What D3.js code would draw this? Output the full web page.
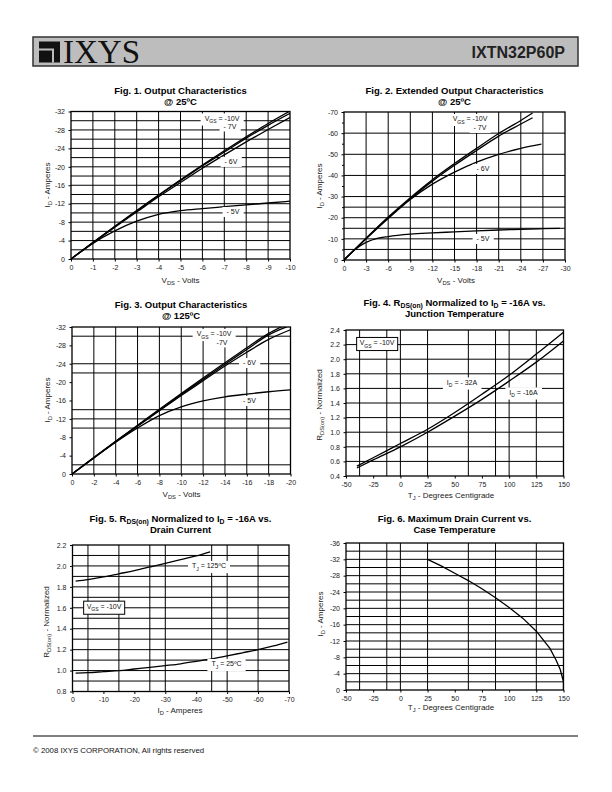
<!DOCTYPE html>
<html><head><meta charset="utf-8">
<script src="https://cdn.jsdelivr.net/npm/d3@7/dist/d3.min.js"></script>
<style>body{margin:0;background:#fff;} svg{display:block;font-family:Arial,"Liberation Sans",sans-serif;}</style>
</head><body><svg id="c" width="612" height="792"></svg>
<script>
// ---------- DATA ----------
// Fig 1
const f1XTicks = [0,-1,-2,-3,-4,-5,-6,-7,-8,-9,-10];
const f1YTicks = [0,-4,-8,-12,-16,-20,-24,-28,-32];
const f1GridX = [-1,-2,-3,-4,-5,-6,-7,-8,-9];
const f1GridY = [-2,-4,-6,-8,-10,-12,-14,-16,-18,-20,-22,-24,-26,-28,-30];
const f1Vds = [0,-1,-2,-3,-4,-5,-6,-7,-8,-9,-10];
const f1Vgs10 = [0,-3.6,-7.1,-10.5,-13.9,-17.2,-20.4,-23.5,-26.5,-29.4,-32.1];
const f1Vgs7  = [0,-3.6,-7.0,-10.4,-13.8,-17.0,-20.2,-23.2,-26.2,-29.0,-31.6];
const f1Vgs6  = [0,-3.5,-6.9,-10.2,-13.5,-16.6,-19.7,-22.6,-25.4,-28.1,-30.7];
const f1Vgs5  = [0,-3.4,-6.1,-8.2,-9.7,-10.5,-10.95,-11.35,-11.75,-12.15,-12.55];

// Fig 2
const f2XTicks = [0,-3,-6,-9,-12,-15,-18,-21,-24,-27,-30];
const f2YTicks = [0,-10,-20,-30,-40,-50,-60,-70];
const f2YMinor = [-5,-15,-25,-35,-45,-55,-65];
const f2GridX = [-3,-6,-9,-12,-15,-18,-21,-24,-27];
const f2GridY = [-5,-10,-15,-20,-25,-30,-40,-50,-60];
const f2VdsA = [0,-3,-6,-9,-12,-15,-18,-21,-24,-25.6];
const f2Vgs10 = [0,-10.3,-20.3,-29.5,-38.0,-45.6,-52.8,-59.8,-66.0,-69.5];
const f2Vgs7  = [0,-10.2,-20.0,-29.0,-37.3,-44.8,-51.8,-58.6,-64.3,-67.3];
const f2VdsB = [0,-3,-6,-9,-12,-15,-18,-21,-24,-26.8];
const f2Vgs6  = [0,-10.0,-19.6,-28.6,-35.9,-41.6,-46.3,-50.0,-52.8,-54.8];
const f2VdsC = [0,-1.5,-3,-4.5,-6,-9,-12,-15,-18,-21,-24,-27,-29.3];
const f2Vgs5  = [0,-5.0,-8.3,-10.2,-11.1,-12.2,-12.8,-13.3,-13.8,-14.2,-14.5,-14.8,-15.0];

// Fig 3
const f3XTicks = [0,-2,-4,-6,-8,-10,-12,-14,-16,-18,-20];
const f3YTicks = [0,-4,-8,-12,-16,-20,-24,-28,-32];
const f3GridX = [-2,-4,-6,-8,-10,-12,-14,-16,-18];
const f3GridY = [-2,-10,-12,-14,-22,-24,-30];
const f3VdsA = [0,-2,-4,-6,-8,-10,-12,-14,-16,-18,-19.3];
const f3Vgs10 = [0,-3.6,-7.1,-10.6,-14.1,-17.5,-20.9,-24.2,-27.5,-30.6,-32.2];
const f3VdsB = [0,-2,-4,-6,-8,-10,-12,-14,-16,-18,-19.7];
const f3Vgs7  = [0,-3.6,-7.1,-10.5,-13.9,-17.3,-20.6,-23.9,-27.1,-30.3,-32.1];
const f3VdsC = [0,-2,-4,-6,-8,-10,-12,-14,-16,-18,-20];
const f3Vgs6  = [0,-3.5,-7.0,-10.4,-13.8,-17.1,-20.3,-23.5,-26.5,-29.3,-31.4];
const f3Vgs5  = [0,-3.5,-6.9,-10.0,-12.7,-14.6,-15.9,-16.8,-17.4,-17.9,-18.3];

// Fig 4
const f4XTicks = [-50,-25,0,25,50,75,100,125,150];
const f4YTicks = [0.4,0.6,0.8,1.0,1.2,1.4,1.6,1.8,2.0,2.2,2.4];
const f4GridX = [-37.5,-12.5,0,25,62.5,87.5,100,125];
const f4GridY = [0.6,0.8,1.0,1.2,1.4,1.6,1.8,2.0,2.2];
const f4Tj = [-40,-25,0,25,50,75,100,125,150];
const f4Id32 = [0.535,0.65,0.845,1.04,1.27,1.52,1.78,2.07,2.37];
const f4Id16 = [0.51,0.62,0.80,1.00,1.22,1.45,1.70,1.96,2.25];

// Fig 5
const f5XTicks = [0,-10,-20,-30,-40,-50,-60,-70];
const f5YTicks = [0.8,1.0,1.2,1.4,1.6,1.8,2.0,2.2];
const f5GridX = [-5,-15,-25,-30,-45,-50,-60];
const f5GridY = [0.9,1.0,1.1,1.2,1.3,1.4,1.5,1.6,1.7,1.8,1.9,2.0,2.1];
const f5IdHot = [-1,-5,-10,-15,-20,-25,-30,-35,-40,-44.5];
const f5Tj125 = [1.855,1.87,1.895,1.925,1.955,1.99,2.025,2.06,2.095,2.135];
const f5IdCold = [-1,-5,-10,-15,-20,-25,-30,-35,-40,-45,-50,-55,-60,-65,-69.5];
const f5Tj25 = [0.975,0.98,0.99,1.0,1.015,1.03,1.047,1.065,1.088,1.112,1.14,1.17,1.2,1.235,1.272];

// Fig 6
const f6XTicks = [-50,-25,0,25,50,75,100,125,150];
const f6YTicks = [0,-4,-8,-12,-16,-20,-24,-28,-32,-36];
const f6GridX = [-37.5,-12.5,0,25,62.5,87.5,125];
const f6GridY = [-2,-4,-6,-8,-10,-12,-14,-16,-18,-20,-22,-24,-26,-28,-30,-32,-34];
const f6Tc = [25,37.5,50,62.5,75,87.5,100,112.5,125,137.5,143,147,149,150,150];
const f6Id = [-32,-30.4,-28.6,-26.8,-24.8,-22.6,-20.2,-17.6,-14.4,-10.2,-7.4,-5.0,-3.0,-2.0,0];

// ---------- DRAWING ----------
const svg = d3.select("#c");
const zip = (xs, ys) => xs.map((v,i)=>[v, ys[i]]);

function rich(sel, str, size) {
  const re = /_\{([^}]*)\}/g;
  let last = 0, m, afterSub = false;
  const push = (t, sub) => {
    if (!t) return;
    const ts = sel.append("tspan").text(t);
    if (sub) { ts.attr("font-size", size*0.72).attr("dy", size*0.3); afterSub = true; }
    else if (afterSub) { ts.attr("dy", -size*0.3); afterSub = false; }
  };
  while ((m = re.exec(str)) !== null) {
    push(str.slice(last, m.index), false);
    push(m[1], true);
    last = re.lastIndex;
  }
  push(str.slice(last), false);
  return sel;
}

function chart(c) {
  const g = svg.append("g");
  const x = d3.scaleLinear().domain(c.xDomain).range([c.left, c.right]);
  const y = d3.scaleLinear().domain(c.yDomain).range([c.bottom, c.top]);
  const id = "clip" + c.name;
  svg.append("clipPath").attr("id", id).append("rect")
    .attr("x", c.left).attr("y", c.top).attr("width", c.right - c.left).attr("height", c.bottom - c.top);

  // grid
  g.append("g").selectAll("line").data(c.gridX).join("line")
    .attr("x1", d=>x(d)).attr("x2", d=>x(d)).attr("y1", c.top).attr("y2", c.bottom)
    .attr("stroke", "#000").attr("stroke-width", 1);
  g.append("g").selectAll("line").data(c.gridY).join("line")
    .attr("y1", d=>y(d)).attr("y2", d=>y(d)).attr("x1", c.left).attr("x2", c.right)
    .attr("stroke", "#000").attr("stroke-width", 1);

  // axes
  const ax = g.append("g").attr("transform", `translate(0,${c.bottom})`)
    .call(d3.axisBottom(x).tickValues(c.xTicks).tickSize(2.5).tickPadding(3.5).tickFormat(c.fx));
  const ay = g.append("g").attr("transform", `translate(${c.left},0)`)
    .call(d3.axisLeft(y).tickValues(c.yTicks).tickSize(2.5).tickPadding(3.5).tickFormat(c.fy));
  if (c.yMinor) {
    g.append("g").attr("transform", `translate(${c.left},0)`)
      .call(d3.axisLeft(y).tickValues(c.yMinor).tickSize(2).tickFormat(""))
      .call(s => s.select(".domain").remove());
  }
  [ax, ay].forEach(a => {
    a.select(".domain").remove();
    a.selectAll("text").attr("font-size", 7).attr("fill", "#222").attr("font-family", "Arial, 'Liberation Sans', sans-serif");
    a.selectAll("line").attr("stroke", "#000");
  });

  // label boxes
  const lab = g.append("g");
  const texts = [];
  (c.labels || []).forEach(L => {
    const t = lab.append("text").attr("x", L.x).attr("y", L.y).attr("dy", "0.35em")
      .attr("text-anchor", "middle").attr("font-size", 7).attr("fill", "#111");
    rich(t, L.t, 7);
    texts.push([t, L]);
  });
  texts.forEach(([t, L]) => {
    const b = t.node().getBBox();
    const px = L.box ? 3 : 4, py = L.box ? 2 : 1.5;
    lab.insert("rect", "text").attr("x", b.x - px).attr("y", b.y - py)
      .attr("width", b.width + 2*px).attr("height", b.height + 2*py)
      .attr("fill", "#fff").attr("stroke", L.box ? "#000" : "none").attr("stroke-width", 1);
  });

  // curves
  const line = d3.line().x(d=>x(d[0])).y(d=>y(d[1])).curve(d3.curveMonotoneX);
  const lineN = d3.line().x(d=>x(d[0])).y(d=>y(d[1])).curve(d3.curveLinear);
  g.append("g").attr("clip-path", `url(#${id})`).selectAll("path").data(c.series).join("path")
    .attr("d", d => (d.linear ? lineN : line)(d.pts))
    .attr("fill", "none").attr("stroke", "#000").attr("stroke-width", 1.3);

  lab.raise();

  // frame
  g.append("rect").attr("x", c.left).attr("y", c.top).attr("width", c.right - c.left).attr("height", c.bottom - c.top)
    .attr("fill", "none").attr("stroke", "#000").attr("stroke-width", 1.3);

  // titles
  c.title.forEach((tt, i) => {
    const t = g.append("text").attr("x", c.tx).attr("y", c.ty + i*11.5).attr("text-anchor", "middle")
      .attr("font-size", 9.5).attr("font-weight", "bold");
    rich(t, tt, 9.5);
  });
  // axis titles
  const xt = g.append("text").attr("x", c.xlx).attr("y", c.xly).attr("text-anchor", "middle").attr("font-size", 8).attr("fill", "#222");
  rich(xt, c.xLabel, 8);
  const yt = g.append("text").attr("transform", `translate(${c.ylx},${c.yly}) rotate(-90)`).attr("text-anchor", "middle").attr("font-size", 8).attr("fill", "#222");
  rich(yt, c.yLabel, 8);
}

const fInt = d => String(d);
const f1d = d3.format(".1f");

chart({name:"1", xDomain:[0,-10], yDomain:[0,-32], left:71, right:290, top:111.5, bottom:259,
  xTicks:f1XTicks, yTicks:f1YTicks, gridX:f1GridX, gridY:f1GridY, fx:fInt, fy:fInt,
  series:[{pts:zip(f1Vds,f1Vgs10)},{pts:zip(f1Vds,f1Vgs7)},{pts:zip(f1Vds,f1Vgs6)},{pts:zip(f1Vds,f1Vgs5)}],
  labels:[{t:"V_{GS} = -10V",x:222,y:118.5},{t:"- 7V",x:230,y:126.5},{t:"- 6V",x:231,y:162},{t:"- 5V",x:233,y:212}],
  title:["Fig. 1. Output Characteristics","@ 25ºC"], tx:180.5, ty:93.5,
  xLabel:"V_{DS} - Volts", xlx:180.5, xly:282.5, yLabel:"I_{D} - Amperes", ylx:49.5, yly:185});

chart({name:"2", xDomain:[0,-30], yDomain:[0,-70], left:344, right:565, top:112, bottom:260,
  xTicks:f2XTicks, yTicks:f2YTicks, yMinor:f2YMinor, gridX:f2GridX, gridY:f2GridY, fx:fInt, fy:fInt,
  series:[{pts:zip(f2VdsA,f2Vgs10)},{pts:zip(f2VdsA,f2Vgs7)},{pts:zip(f2VdsB,f2Vgs6)},{pts:zip(f2VdsC,f2Vgs5)}],
  labels:[{t:"V_{GS} = -10V",x:470,y:119},{t:"- 7V",x:480,y:128},{t:"- 6V",x:483,y:169},{t:"- 5V",x:483,y:239}],
  title:["Fig. 2. Extended Output Characteristics","@ 25ºC"], tx:454.5, ty:93.5,
  xLabel:"V_{DS} - Volts", xlx:456, xly:283, yLabel:"I_{D} - Amperes", ylx:322, yly:186});

chart({name:"3", xDomain:[0,-20], yDomain:[0,-32], left:72, right:290.5, top:327, bottom:474,
  xTicks:f3XTicks, yTicks:f3YTicks, gridX:f3GridX, gridY:f3GridY, fx:fInt, fy:fInt,
  series:[{pts:zip(f3VdsA,f3Vgs10)},{pts:zip(f3VdsB,f3Vgs7)},{pts:zip(f3VdsC,f3Vgs6)},{pts:zip(f3VdsC,f3Vgs5)}],
  labels:[{t:"V_{GS} = -10V",x:214,y:334},{t:"-7V",x:222,y:342.5},{t:"- 6V",x:249.5,y:363},{t:"- 5V",x:249.5,y:401}],
  title:["Fig. 3. Output Characteristics","@ 125ºC"], tx:181, ty:307.5,
  xLabel:"V_{DS} - Volts", xlx:181.5, xly:497, yLabel:"I_{D} - Amperes", ylx:49.5, yly:400});

chart({name:"4", xDomain:[-50,150], yDomain:[0.4,2.4], left:346, right:563.5, top:330, bottom:476,
  xTicks:f4XTicks, yTicks:f4YTicks, gridX:f4GridX, gridY:f4GridY, fx:fInt, fy:f1d,
  series:[{pts:zip(f4Tj,f4Id32)},{pts:zip(f4Tj,f4Id16)}],
  labels:[{t:"V_{GS} = -10V",x:377,y:343,box:true},{t:"I_{D} = - 32A",x:462,y:382.5},{t:"I_{D} = -16A",x:523.5,y:392.5}],
  title:["Fig. 4. R_{DS(on)} Normalized to I_{D} = -16A vs.","Junction Temperature"], tx:454.5, ty:305.5,
  xLabel:"T_{J} - Degrees Centigrade", xlx:451, xly:497.5, yLabel:"R_{DS(on)} - Normalized", ylx:322, yly:405});

chart({name:"5", xDomain:[0,-70], yDomain:[0.8,2.2], left:72.5, right:289, top:545, bottom:691.5,
  xTicks:f5XTicks, yTicks:f5YTicks, gridX:f5GridX, gridY:f5GridY, fx:fInt, fy:f1d,
  series:[{pts:zip(f5IdHot,f5Tj125)},{pts:zip(f5IdCold,f5Tj25)}],
  labels:[{t:"T_{J} = 125ºC",x:209,y:566},{t:"V_{GS} = -10V",x:104,y:606.7,box:true},{t:"T_{J} = 25ºC",x:226.5,y:664}],
  title:["Fig. 5. R_{DS(on)} Normalized to I_{D} = -16A vs.","Drain Current"], tx:180.5, ty:521.5,
  xLabel:"I_{D} - Amperes", xlx:180, xly:712.5, yLabel:"R_{DS(on)} - Normalized", ylx:48.5, yly:622});

chart({name:"6", xDomain:[-50,150], yDomain:[0,-36], left:346, right:563.5, top:543, bottom:690,
  xTicks:f6XTicks, yTicks:f6YTicks, gridX:f6GridX, gridY:f6GridY, fx:fInt, fy:fInt,
  series:[{pts:zip(f6Tc,f6Id), linear:true}],
  labels:[],
  title:["Fig. 6. Maximum Drain Current vs.","Case Temperature"], tx:454.5, ty:521.5,
  xLabel:"T_{J} - Degrees Centigrade", xlx:451, xly:710, yLabel:"I_{D} - Amperes", ylx:323, yly:614});

// ---------- HEADER & FOOTER ----------
svg.append("rect").attr("x", 33).attr("y", 37).attr("width", 545).attr("height", 29)
  .attr("fill", "#bdbdbd").attr("stroke", "#333").attr("stroke-width", 1.5);
const logo = svg.append("g");
logo.append("rect").attr("x", 39).attr("y", 41.5).attr("width", 21).attr("height", 21).attr("fill", "#111");
logo.append("path").attr("d", "M39,49.5 H53 V62.5").attr("fill", "none").attr("stroke", "#bdbdbd").attr("stroke-width", 2);
svg.append("text").attr("x", 63).attr("y", 63).attr("font-family", "'Liberation Serif','Times New Roman',serif")
  .attr("font-size", 33).attr("fill", "#111").text("IXYS");
svg.append("text").attr("x", 565).attr("y", 58).attr("text-anchor", "end").attr("font-size", 16)
  .attr("font-weight", "bold").attr("fill", "#222").text("IXTN32P60P");

svg.append("line").attr("x1", 33).attr("x2", 578).attr("y1", 736).attr("y2", 736).attr("stroke", "#000").attr("stroke-width", 1);
svg.append("text").attr("x", 33).attr("y", 753).attr("font-size", 7.8).attr("fill", "#111")
  .text("© 2008 IXYS CORPORATION,  All rights reserved");
</script></body></html>
